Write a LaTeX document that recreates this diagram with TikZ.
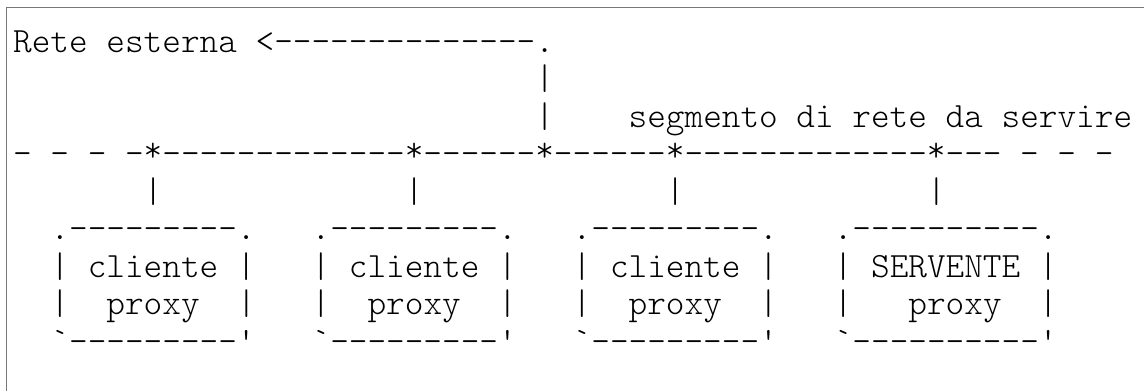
\documentclass[tikz,border=0pt]{standalone}
\usepackage{fontspec}
\newfontfamily\asc{lmmonolt10-regular.otf}
\newcommand\rst{\raisebox{1.5pt}{*}}
\begin{document}
\begin{tikzpicture}[x=0.5pt,y=-0.5pt,
  txt/.style={anchor=base west, inner sep=0pt, outer sep=0pt,
    font=\asc\fontsize{17.76pt}{20pt}\selectfont},
  frame/.style={draw={rgb,255:red,120;green,120;blue,120}, line width=0.6pt}]
\useasboundingbox (0,0) rectangle (1144,391);
\def\X#1{{13.2+18.65*(#1)}}
% frame (only left and top edges visible)
\draw[frame] (6.5,391) -- (6.5,7.5) -- (1144,7.5);
% row 1
\node[txt] (r1) at (\X{0},52) {Rete esterna <--------------.};
% row 2
\node[txt] (r2) at (\X{28},89.5) {|};
% row 3
\node[txt] (r3a) at (\X{28},127) {|};
\node[txt] (r3b) at (\X{33},127) {segmento di rete da servire};
% row 4
\node[txt] (r4) at (\X{0},164.5) {- - - -\rst-------------\rst------\rst------\rst-------------\rst--- - - -};
% row 5
\foreach \c/\n in {7/a,21/b,35/c,49/d}
  \node[txt] (r5\n) at (\X{\c},202) {|};
% boxes
\foreach \c/\n in {2/a,16/b,30/c}{
  \node[txt] (top\n) at (\X{\c},239.5) {.---------.};
  \node[txt] (cl\n) at (\X{\c},277) {| cliente |};
  \node[txt] (lb\n) at (\X{\c},314.5) {|};
  \node[txt] (px\n) at (\X{\c+3},314.5) {proxy};
  \node[txt] (rb\n) at (\X{\c+10},314.5) {|};
  \node[txt] (bot\n) at (\X{\c},352) {`---------'};
}
\node[txt] (topd) at (\X{44},239.5) {.----------.};
\node[txt] (sv) at (\X{44},277) {| SERVENTE |};
\node[txt] (lbd) at (\X{44},314.5) {|};
\node[txt] (pxd) at (\X{48},314.5) {proxy};
\node[txt] (rbd) at (\X{55},314.5) {|};
\node[txt] (botd) at (\X{44},352) {`----------'};
\end{tikzpicture}
\end{document}
